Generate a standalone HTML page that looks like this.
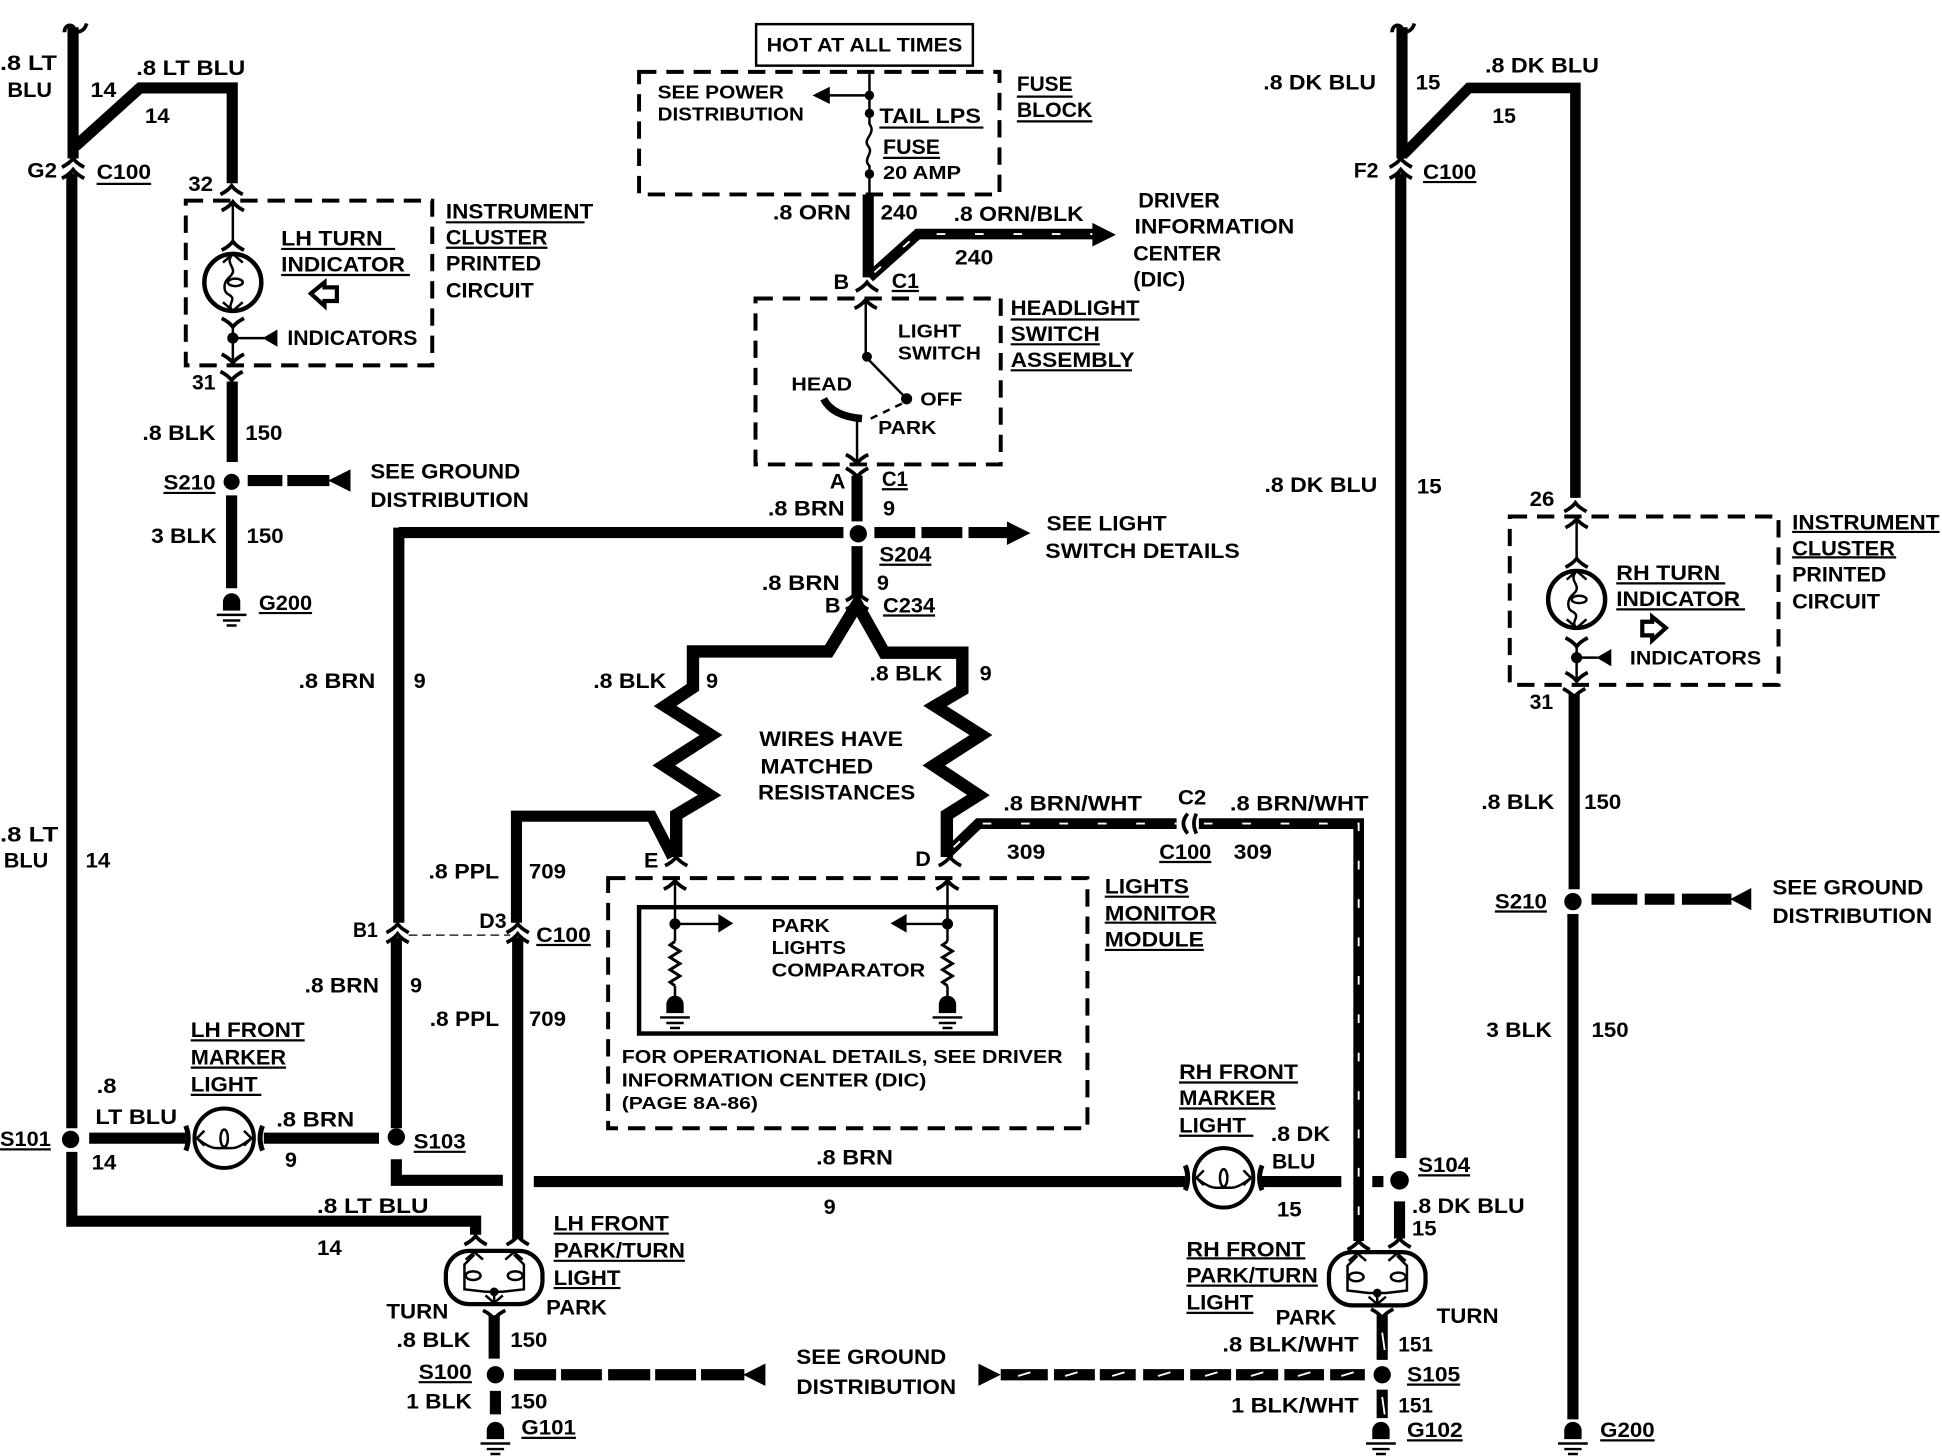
<!DOCTYPE html>
<html><head><meta charset="utf-8"><title>Turn indicator wiring diagram</title>
<style>html,body{margin:0;padding:0;background:#fff}svg{display:block}
text{font-family:"Liberation Sans",sans-serif;font-weight:bold;font-size:17.5px;fill:#000;letter-spacing:0;transform:translateY(-0.6px)}
</style></head><body>
<svg xmlns="http://www.w3.org/2000/svg" width="1942" height="1456" viewBox="0 0 1568 1175.6">
<defs>
<path id="u" d="M-9,5 Q-3,2 0,-2 Q3,2 9,5" fill="none" stroke="#000" stroke-width="3"/>
<path id="d" d="M-9,-5 Q-3,-2 0,2 Q3,-2 9,-5" fill="none" stroke="#000" stroke-width="3"/>
<g id="g"><path d="M-7,6 V-1 A7,7 0 0 1 7,-1 V6 Z"/><path d="M-12,9.5 H12 M-7,14 H7 M-4,18 H4" stroke="#000" stroke-width="2" fill="none"/></g>
<g id="ti"><circle r="23" fill="none" stroke="#000" stroke-width="3.6"/><path d="M0,-23 C-8,-14 6,-12 -3,-4 C-8,0 -8,8 -3,10 C4,14 -6,18 0,23" fill="none" stroke="#000" stroke-width="2"/><ellipse cx="2" cy="0" rx="6" ry="3" fill="none" stroke="#000" stroke-width="2"/><path d="M-8,-16 L0,-23 L8,-16 M-8,16 L0,23 L8,16" fill="none" stroke="#000" stroke-width="2"/></g>
<g id="la"><rect x="-39" y="-21" width="78" height="43" rx="19" fill="none" stroke="#000" stroke-width="3.4"/><path d="M-16,-18 L-24,-10 V10 L-7,12 H7 L24,10 V-10 L16,-18" fill="none" stroke="#000" stroke-width="2"/><ellipse cx="-17" cy="-1" rx="6" ry="3.5" fill="none" stroke="#000" stroke-width="2"/><ellipse cx="17" cy="-1" rx="6" ry="3.5" fill="none" stroke="#000" stroke-width="2"/><circle cy="12" r="3.5"/><path d="M0,12 V21 M-7,15 L0,21 L7,15 M-23,-14 L-16,-20 L-9,-14 M9,-14 L16,-20 L23,-14" fill="none" stroke="#000" stroke-width="2"/></g>
<g id="ml"><ellipse rx="24" ry="24" fill="none" stroke="#000" stroke-width="3.2"/><path d="M-22,0 C-12,8 -8,8 -6,8 H6 C8,8 12,8 22,0 M-16,-6 L-22,0 L-16,6 M16,-6 L22,0 L16,6" fill="none" stroke="#000" stroke-width="2"/><ellipse cy="0" rx="3" ry="7" fill="none" stroke="#000" stroke-width="2"/><path d="M-31,-10 Q-27,0 -31,10 M31,-10 Q27,0 31,10" fill="none" stroke="#000" stroke-width="4"/></g>
<path id="r" d="M0,0 L-4,3 L4,8 L-4,13 L4,18 L-4,23 L4,28 L-4,33 L0,36" fill="none" stroke="#000" stroke-width="2.4"/>
</defs>
<rect width="1568" height="1176" fill="#fff"/>

<!-- thick wires -->
<g fill="none" stroke="#000" stroke-width="9" stroke-linejoin="miter">
<path d="M59,22 V128 M58,140 V911 M58,930 V986 H384 V997"/>
<path d="M61,118 L113,71 H187.5 V148"/>
<path d="M187.5,308 V373 M187,400 V475"/>
<path d="M322,430 H681 M322,426 V745 M320,757 V911 M320,936 V953 H406 M431,954 H957"/>
<path d="M692,384 V421 M692,441 V481"/>
<path d="M701,157 V224"/>
<path stroke-width="10" d="M669,526 L692,488 L714,527 H777 V557 L755,570 L792,593.5 L754,618 L790,642 L764.5,658 V692"/>
<path stroke-width="10" d="M692,488 L669,526 H559.5 V555 L537,570 L574,593.5 L536,618 L573,642 L546,658 V692"/>
<path d="M417,745 V659 H526 L543,692 M418,757 V1000"/>
<path d="M132,22 V128" transform="translate(1000,0)"/>
<path d="M1131,140 V935 M1130,970 V1000"/>
<path stroke-width="8.5" d="M1134,124 L1186,71 H1272 V402"/>
<path d="M1271,560 V718 M1270,738 V1146"/>
<path d="M72,919 H150 M213,919 H306 M1018,954 H1083"/>
<path d="M399,1062 V1097 M400,1123 V1142 M1116,1062 V1098 M1116,1122 V1145"/>
<path d="M1108,954 H1117"/>
</g>
<!-- striped wires -->
<g fill="none" stroke="#000" stroke-width="8.6"><path d="M702,224 L741,189 H884"/><path d="M764,690 L790,665 H950"/><path d="M968,665 H1097 V1002"/></g>
<g fill="none" stroke="#fff" stroke-width="1.5" stroke-dasharray="7 24"><path d="M706,220 L741,189 H884"/><path d="M770,684 L790,665 H950"/><path d="M972,665 H1097 V1002"/></g>
<path d="M882,180 L901,189.5 L882,199 Z"/>

<!-- dashed thick feeds -->
<g fill="none" stroke="#000" stroke-width="9"><path d="M200,388 H228 M232,388 H266"/>
<path d="M706,430 H739 M744,430 H777 M782,430 H814"/>
<path d="M1285,726 H1322 M1328,726 H1352 M1358,726 H1398"/>
<path d="M415,1110 H449 M453,1110 H486 M491,1110 H525 M529,1110 H562 M566,1110 H601"/>
<path d="M808,1110 H846 M851,1110 H884 M888,1110 H917 M923,1110 H956 M961,1110 H994 M998,1110 H1032 M1037,1110 H1069 M1074,1110 H1102"/></g>
<g fill="none" stroke="#fff" stroke-width="1.5"><path d="M822,1111 L832,1108 M860,1111 L870,1108 M898,1111 L908,1108 M935,1111 L945,1108 M973,1111 L983,1108 M1010,1111 L1020,1108 M1048,1111 L1058,1108 M1083,1111 L1093,1108"/><path d="M1116,1076 L1118,1090 M1116,1128 L1118,1142"/></g>
<path d="M265,388 L283,379 V397 Z M813,421 L832,430.5 L813,440 Z M1397,726 L1414,717 V735 Z M600,1110 L618,1101 V1119 Z M790,1101 L808,1110 L790,1119 Z"/>

<!-- dots -->
<circle cx="187" cy="389" r="6.5"/><circle cx="693" cy="431" r="7"/><circle cx="1270" cy="728" r="7"/><circle cx="57" cy="920" r="7"/><circle cx="320" cy="918" r="7"/><circle cx="1130" cy="953" r="7.5"/><circle cx="400" cy="1110" r="7"/><circle cx="1116" cy="1110" r="7"/>

<!-- grounds -->
<use href="#g" x="187" y="487"/><use href="#g" x="400" y="1156"/><use href="#g" x="1115" y="1156"/><use href="#g" x="1270" y="1156"/><use href="#g" x="545" y="812"/><use href="#g" x="765" y="812"/>

<!-- dashed boxes -->
<g fill="none" stroke="#000" stroke-width="3.2" stroke-dasharray="14 8">
<rect x="150" y="162" width="199" height="133"/>
<rect x="516" y="58" width="291" height="99"/>
<rect x="610" y="241" width="198" height="134"/>
<rect x="491" y="709" width="387" height="202"/>
<rect x="1219" y="417" width="217" height="136"/>
</g>
<rect x="610.5" y="19.5" width="175" height="33.5" fill="none" stroke="#000" stroke-width="2"/>
<rect x="516" y="732.5" width="288" height="102" fill="none" stroke="#000" stroke-width="3.6"/>

<!-- thin internals -->
<g fill="none" stroke="#000" stroke-width="2">
<path d="M188,163 V197 M188,262 V293 M188,273 H214"/>
<path d="M1273,419 V453 M1273,520 V549 M1273,531 H1290"/>
<path d="M702,58 V100 C708,108 696,112 701,118 C706,124 696,128 702,134 V157 M702,77 H668"/>
<path d="M699,241 V288 L732,322"/>
<path d="M692,338 V374"/>
<path d="M703,338 L730,325" stroke-dasharray="6 5"/>
<path d="M545,709 V746 H582 M545,746 V760 M765,709 V746 H732 M765,746 V760 M545,796 V806 M765,796 V806"/>
<path d="M330,755 H412" stroke-width="1" stroke-dasharray="7 4"/>
</g>
<use href="#r" x="545" y="760"/><use href="#r" x="765" y="760"/>
<path d="M665,322 Q672,336 696,338" fill="none" stroke="#000" stroke-width="6"/>
<circle cx="188" cy="273" r="4.5"/><circle cx="1273" cy="531" r="4.5"/><circle cx="702" cy="77" r="3.8"/><circle cx="702" cy="91.5" r="3.8"/><circle cx="702" cy="140.5" r="3.8"/><circle cx="700" cy="288" r="4"/><circle cx="732" cy="322" r="4.5"/><circle cx="545" cy="746" r="4.5"/><circle cx="765" cy="746" r="4.5"/>
<path d="M656,77 L670,70 V84 Z M212,273 L224,266 V280 Z M1289,531 L1301,524 V538 Z M580,738 L592,745.5 L580,753 Z M732,738 L719,745.5 L732,753 Z"/>
<path d="M251,237 L262,228 V232 H272 V243 H262 V247 Z M1345,507 L1334,498 V502 H1326 V513 H1334 V517 Z" fill="#fff" stroke="#000" stroke-width="3.4"/>

<use href="#ti" x="188" y="228"/><use href="#ti" x="1273" y="484"/>
<use href="#ml" x="181" y="919"/><use href="#ml" x="988" y="951"/>
<use href="#la" x="399" y="1031"/><use href="#la" x="1112" y="1032"/>

<!-- connector chevrons -->
<use href="#u" x="59" y="130"/><use href="#u" x="59" y="139"/><use href="#u" x="1131" y="130"/><use href="#u" x="1131" y="139"/>
<use href="#u" x="187" y="152"/><use href="#u" x="188" y="165"/><use href="#u" x="188" y="197"/>
<use href="#d" x="188" y="262"/><use href="#d" x="188" y="291"/><use href="#d" x="187" y="305"/>
<use href="#u" x="700" y="230"/><use href="#u" x="699" y="244"/><use href="#d" x="692" y="372"/><use href="#d" x="692" y="383"/>
<use href="#u" x="692" y="480"/><use href="#u" x="692" y="487"/>
<use href="#u" x="546" y="694"/><use href="#u" x="545" y="713"/><use href="#u" x="767" y="694"/><use href="#u" x="765" y="713"/>
<use href="#u" x="321" y="748"/><use href="#u" x="321" y="756"/><use href="#u" x="418" y="748"/><use href="#u" x="418" y="756"/>
<use href="#u" x="384" y="1000"/><use href="#u" x="418" y="1000"/><use href="#u" x="1097" y="1004"/><use href="#u" x="1130" y="1002"/>
<use href="#d" x="399" y="1063"/><use href="#d" x="1116" y="1062"/>
<use href="#u" x="1272" y="408"/><use href="#u" x="1273" y="421"/><use href="#u" x="1273" y="453"/>
<use href="#d" x="1273" y="520"/><use href="#d" x="1273" y="548"/><use href="#d" x="1271" y="561"/>
<path d="M52,26 C52,19 60,19 60,24 C62,27 68,26 70,19 M1124,26 C1124,19 1132,19 1132,24 C1134,27 1140,26 1142,19" fill="none" stroke="#000" stroke-width="3"/>
<path d="M959,657 Q952,665 959,673 M966,657 Q962,665 966,673" fill="none" stroke="#000" stroke-width="3"/>

<!-- underlines -->
<path fill="none" stroke="#000" stroke-width="1.8" d="M78,148.5 h44 M360,179.5 h112 M360,200 h82 M227,201 h92 M227,222 h104 M132,398 h42 M209,495 h43 M710,103 h84 M713,127.5 h46 M821,78 h45 M821,98 h61 M720,235 h22 M712,395 h21 M816,258 h104 M816,278 h72 M816,299 h98 M710,456 h42 M713,497 h42 M892,724 h68 M892,745 h90 M892,767 h80 M936,696 h42 M433,763 h44 M154,840 h92 M154,862 h77 M154,884 h57 M952,874 h96 M952,895 h78 M952,917 h60 M0,928 h41 M334,930 h42 M1145,949 h42 M447,996 h93 M447,1018 h106 M447,1040 h54 M958,1016 h96 M958,1038 h106 M958,1060 h54 M338,1116 h43 M1136,1118 h43 M421,1161 h44 M1136,1163 h45 M1292,1163 h44 M1149,147 h43 M1447,429.5 h119 M1447,450 h84 M1305,471 h88 M1305,492 h104 M1207,736 h42"/>

<!-- labels -->
<text x="0" y="57" textLength="46" lengthAdjust="spacingAndGlyphs">.8 LT</text>
<text x="6" y="79" textLength="36" lengthAdjust="spacingAndGlyphs">BLU</text>
<text x="73" y="79" textLength="21" lengthAdjust="spacingAndGlyphs">14</text>
<text x="110" y="61" textLength="88" lengthAdjust="spacingAndGlyphs">.8 LT BLU</text>
<text x="117" y="100" textLength="20" lengthAdjust="spacingAndGlyphs">14</text>
<text x="22" y="144" textLength="24" lengthAdjust="spacingAndGlyphs">G2</text>
<text x="78" y="145" textLength="44" lengthAdjust="spacingAndGlyphs">C100</text>
<text x="152" y="155" textLength="20" lengthAdjust="spacingAndGlyphs">32</text>
<text x="360" y="177" textLength="119" lengthAdjust="spacingAndGlyphs">INSTRUMENT</text>
<text x="360" y="198" textLength="82" lengthAdjust="spacingAndGlyphs">CLUSTER</text>
<text x="360" y="219" textLength="77" lengthAdjust="spacingAndGlyphs">PRINTED</text>
<text x="360" y="241" textLength="71" lengthAdjust="spacingAndGlyphs">CIRCUIT</text>
<text x="227" y="199" textLength="82" lengthAdjust="spacingAndGlyphs">LH TURN</text>
<text x="227" y="220" textLength="100" lengthAdjust="spacingAndGlyphs">INDICATOR</text>
<text x="232" y="279" textLength="105" lengthAdjust="spacingAndGlyphs">INDICATORS</text>
<text x="155" y="315" textLength="19" lengthAdjust="spacingAndGlyphs">31</text>
<text x="115" y="356" textLength="59" lengthAdjust="spacingAndGlyphs">.8 BLK</text>
<text x="198" y="356" textLength="30" lengthAdjust="spacingAndGlyphs">150</text>
<text x="132" y="396" textLength="42" lengthAdjust="spacingAndGlyphs">S210</text>
<text x="299" y="387" textLength="121" lengthAdjust="spacingAndGlyphs">SEE GROUND</text>
<text x="299" y="410" textLength="128" lengthAdjust="spacingAndGlyphs">DISTRIBUTION</text>
<text x="122" y="439" textLength="53" lengthAdjust="spacingAndGlyphs">3 BLK</text>
<text x="199" y="439" textLength="30" lengthAdjust="spacingAndGlyphs">150</text>
<text x="209" y="493" textLength="43" lengthAdjust="spacingAndGlyphs">G200</text>
<text x="241" y="556" textLength="62" lengthAdjust="spacingAndGlyphs">.8 BRN</text>
<text x="334" y="556">9</text>
<text x="479" y="556" textLength="59" lengthAdjust="spacingAndGlyphs">.8 BLK</text>
<text x="570" y="556">9</text>
<text x="702" y="550" textLength="59" lengthAdjust="spacingAndGlyphs">.8 BLK</text>
<text x="791" y="550">9</text>
<text x="0" y="680" textLength="47" lengthAdjust="spacingAndGlyphs">.8 LT</text>
<text x="3" y="701" textLength="36" lengthAdjust="spacingAndGlyphs">BLU</text>
<text x="69" y="701" textLength="20" lengthAdjust="spacingAndGlyphs">14</text>
<text x="346" y="710" textLength="57" lengthAdjust="spacingAndGlyphs">.8 PPL</text>
<text x="427" y="710" textLength="30" lengthAdjust="spacingAndGlyphs">709</text>
<text x="285" y="757" textLength="20" lengthAdjust="spacingAndGlyphs">B1</text>
<text x="387" y="750" textLength="22" lengthAdjust="spacingAndGlyphs">D3</text>
<text x="433" y="761" textLength="44" lengthAdjust="spacingAndGlyphs">C100</text>
<text x="246" y="802" textLength="60" lengthAdjust="spacingAndGlyphs">.8 BRN</text>
<text x="331" y="802">9</text>
<text x="347" y="829" textLength="56" lengthAdjust="spacingAndGlyphs">.8 PPL</text>
<text x="427" y="829" textLength="30" lengthAdjust="spacingAndGlyphs">709</text>
<text x="154" y="838" textLength="92" lengthAdjust="spacingAndGlyphs">LH FRONT</text>
<text x="154" y="860" textLength="77" lengthAdjust="spacingAndGlyphs">MARKER</text>
<text x="154" y="882" textLength="54" lengthAdjust="spacingAndGlyphs">LIGHT</text>
<text x="78" y="883" textLength="16" lengthAdjust="spacingAndGlyphs">.8</text>
<text x="77" y="908" textLength="66" lengthAdjust="spacingAndGlyphs">LT BLU</text>
<text x="223" y="910" textLength="63" lengthAdjust="spacingAndGlyphs">.8 BRN</text>
<text x="0" y="926" textLength="41" lengthAdjust="spacingAndGlyphs">S101</text>
<text x="334" y="928" textLength="42" lengthAdjust="spacingAndGlyphs">S103</text>
<text x="74" y="945" textLength="20" lengthAdjust="spacingAndGlyphs">14</text>
<text x="230" y="943">9</text>
<text x="659" y="941" textLength="62" lengthAdjust="spacingAndGlyphs">.8 BRN</text>
<text x="665" y="981">9</text>
<text x="256" y="980" textLength="90" lengthAdjust="spacingAndGlyphs">.8 LT BLU</text>
<text x="256" y="1014" textLength="20" lengthAdjust="spacingAndGlyphs">14</text>
<text x="447" y="994" textLength="93" lengthAdjust="spacingAndGlyphs">LH FRONT</text>
<text x="447" y="1016" textLength="106" lengthAdjust="spacingAndGlyphs">PARK/TURN</text>
<text x="447" y="1038" textLength="54" lengthAdjust="spacingAndGlyphs">LIGHT</text>
<text x="312" y="1065" textLength="50" lengthAdjust="spacingAndGlyphs">TURN</text>
<text x="441" y="1062" textLength="49" lengthAdjust="spacingAndGlyphs">PARK</text>
<text x="320" y="1088" textLength="60" lengthAdjust="spacingAndGlyphs">.8 BLK</text>
<text x="412" y="1088" textLength="30" lengthAdjust="spacingAndGlyphs">150</text>
<text x="338" y="1114" textLength="43" lengthAdjust="spacingAndGlyphs">S100</text>
<text x="328" y="1138" textLength="53" lengthAdjust="spacingAndGlyphs">1 BLK</text>
<text x="412" y="1138" textLength="30" lengthAdjust="spacingAndGlyphs">150</text>
<text x="421" y="1159" textLength="44" lengthAdjust="spacingAndGlyphs">G101</text>
<text x="643" y="1102" textLength="121" lengthAdjust="spacingAndGlyphs">SEE GROUND</text>
<text x="643" y="1126" textLength="129" lengthAdjust="spacingAndGlyphs">DISTRIBUTION</text>

<text x="619" y="42" textLength="158" lengthAdjust="spacingAndGlyphs" style="font-size:16px">HOT AT ALL TIMES</text>
<text x="531" y="80" textLength="102" lengthAdjust="spacingAndGlyphs" style="font-size:15px">SEE POWER</text>
<text x="531" y="98" textLength="118" lengthAdjust="spacingAndGlyphs" style="font-size:15px">DISTRIBUTION</text>
<text x="710" y="100" textLength="82" lengthAdjust="spacingAndGlyphs">TAIL LPS</text>
<text x="713" y="125" textLength="46" lengthAdjust="spacingAndGlyphs">FUSE</text>
<text x="713" y="145" textLength="63" lengthAdjust="spacingAndGlyphs" style="font-size:15px">20 AMP</text>
<text x="821" y="74" textLength="45" lengthAdjust="spacingAndGlyphs">FUSE</text>
<text x="821" y="95" textLength="61" lengthAdjust="spacingAndGlyphs">BLOCK</text>
<text x="624" y="178" textLength="63" lengthAdjust="spacingAndGlyphs">.8 ORN</text>
<text x="711" y="178" textLength="30" lengthAdjust="spacingAndGlyphs">240</text>
<text x="770" y="179" textLength="105" lengthAdjust="spacingAndGlyphs">.8 ORN/BLK</text>
<text x="771" y="214" textLength="31" lengthAdjust="spacingAndGlyphs">240</text>
<text x="919" y="168" textLength="66" lengthAdjust="spacingAndGlyphs">DRIVER</text>
<text x="916" y="189" textLength="129" lengthAdjust="spacingAndGlyphs">INFORMATION</text>
<text x="915" y="211" textLength="71" lengthAdjust="spacingAndGlyphs">CENTER</text>
<text x="915" y="232" textLength="42" lengthAdjust="spacingAndGlyphs">(DIC)</text>
<text x="673" y="234">B</text>
<text x="720" y="233" textLength="22" lengthAdjust="spacingAndGlyphs">C1</text>
<text x="816" y="255" textLength="104" lengthAdjust="spacingAndGlyphs">HEADLIGHT</text>
<text x="816" y="276" textLength="72" lengthAdjust="spacingAndGlyphs">SWITCH</text>
<text x="816" y="297" textLength="100" lengthAdjust="spacingAndGlyphs">ASSEMBLY</text>
<text x="725" y="273" textLength="51" lengthAdjust="spacingAndGlyphs" style="font-size:15px">LIGHT</text>
<text x="725" y="291" textLength="67" lengthAdjust="spacingAndGlyphs" style="font-size:15px">SWITCH</text>
<text x="639" y="316" textLength="49" lengthAdjust="spacingAndGlyphs" style="font-size:15px">HEAD</text>
<text x="743" y="328" textLength="34" lengthAdjust="spacingAndGlyphs" style="font-size:15px">OFF</text>
<text x="709" y="351" textLength="47" lengthAdjust="spacingAndGlyphs" style="font-size:15px">PARK</text>
<text x="670" y="395">A</text>
<text x="712" y="393" textLength="21" lengthAdjust="spacingAndGlyphs">C1</text>
<text x="620" y="417" textLength="62" lengthAdjust="spacingAndGlyphs">.8 BRN</text>
<text x="713" y="417">9</text>
<text x="710" y="454" textLength="42" lengthAdjust="spacingAndGlyphs">S204</text>
<text x="845" y="429" textLength="97" lengthAdjust="spacingAndGlyphs">SEE LIGHT</text>
<text x="844" y="451" textLength="157" lengthAdjust="spacingAndGlyphs">SWITCH DETAILS</text>
<text x="615" y="477" textLength="63" lengthAdjust="spacingAndGlyphs">.8 BRN</text>
<text x="708" y="477">9</text>
<text x="666" y="495">B</text>
<text x="713" y="495" textLength="42" lengthAdjust="spacingAndGlyphs">C234</text>
<text x="613" y="603" textLength="116" lengthAdjust="spacingAndGlyphs">WIRES HAVE</text>
<text x="614" y="625" textLength="91" lengthAdjust="spacingAndGlyphs">MATCHED</text>
<text x="612" y="646" textLength="127" lengthAdjust="spacingAndGlyphs">RESISTANCES</text>
<text x="810" y="655" textLength="112" lengthAdjust="spacingAndGlyphs">.8 BRN/WHT</text>
<text x="951" y="650" textLength="23" lengthAdjust="spacingAndGlyphs">C2</text>
<text x="993" y="655" textLength="112" lengthAdjust="spacingAndGlyphs">.8 BRN/WHT</text>
<text x="813" y="694" textLength="31" lengthAdjust="spacingAndGlyphs">309</text>
<text x="936" y="694" textLength="42" lengthAdjust="spacingAndGlyphs">C100</text>
<text x="996" y="694" textLength="31" lengthAdjust="spacingAndGlyphs">309</text>
<text x="520" y="701">E</text>
<text x="739" y="700">D</text>
<text x="892" y="722" textLength="68" lengthAdjust="spacingAndGlyphs">LIGHTS</text>
<text x="892" y="744" textLength="90" lengthAdjust="spacingAndGlyphs">MONITOR</text>
<text x="892" y="765" textLength="80" lengthAdjust="spacingAndGlyphs">MODULE</text>
<text x="623" y="753" textLength="47" lengthAdjust="spacingAndGlyphs" style="font-size:15px">PARK</text>
<text x="623" y="771" textLength="60" lengthAdjust="spacingAndGlyphs" style="font-size:15px">LIGHTS</text>
<text x="623" y="789" textLength="124" lengthAdjust="spacingAndGlyphs" style="font-size:15px">COMPARATOR</text>
<text x="502" y="859" textLength="356" lengthAdjust="spacingAndGlyphs" style="font-size:15px">FOR OPERATIONAL DETAILS, SEE DRIVER</text>
<text x="502" y="878" textLength="246" lengthAdjust="spacingAndGlyphs" style="font-size:15px">INFORMATION CENTER (DIC)</text>
<text x="502" y="896" textLength="110" lengthAdjust="spacingAndGlyphs" style="font-size:14px">(PAGE 8A-86)</text>

<text x="1020" y="73" textLength="91" lengthAdjust="spacingAndGlyphs">.8 DK BLU</text>
<text x="1143" y="73" textLength="20" lengthAdjust="spacingAndGlyphs">15</text>
<text x="1199" y="59" textLength="92" lengthAdjust="spacingAndGlyphs">.8 DK BLU</text>
<text x="1205" y="100" textLength="19" lengthAdjust="spacingAndGlyphs">15</text>
<text x="1093" y="144" textLength="20" lengthAdjust="spacingAndGlyphs">F2</text>
<text x="1149" y="145" textLength="43" lengthAdjust="spacingAndGlyphs">C100</text>
<text x="1021" y="398" textLength="91" lengthAdjust="spacingAndGlyphs">.8 DK BLU</text>
<text x="1144" y="399" textLength="20" lengthAdjust="spacingAndGlyphs">15</text>
<text x="1235" y="409" textLength="20" lengthAdjust="spacingAndGlyphs">26</text>
<text x="1447" y="428" textLength="119" lengthAdjust="spacingAndGlyphs">INSTRUMENT</text>
<text x="1447" y="449" textLength="83" lengthAdjust="spacingAndGlyphs">CLUSTER</text>
<text x="1447" y="470" textLength="76" lengthAdjust="spacingAndGlyphs">PRINTED</text>
<text x="1447" y="492" textLength="71" lengthAdjust="spacingAndGlyphs">CIRCUIT</text>
<text x="1305" y="469" textLength="84" lengthAdjust="spacingAndGlyphs">RH TURN</text>
<text x="1305" y="490" textLength="100" lengthAdjust="spacingAndGlyphs">INDICATOR</text>
<text x="1316" y="537" textLength="106" lengthAdjust="spacingAndGlyphs" style="font-size:16px">INDICATORS</text>
<text x="1235" y="573" textLength="19" lengthAdjust="spacingAndGlyphs">31</text>
<text x="1196" y="654" textLength="59" lengthAdjust="spacingAndGlyphs">.8 BLK</text>
<text x="1279" y="654" textLength="30" lengthAdjust="spacingAndGlyphs">150</text>
<text x="1207" y="734" textLength="42" lengthAdjust="spacingAndGlyphs">S210</text>
<text x="1431" y="723" textLength="122" lengthAdjust="spacingAndGlyphs">SEE GROUND</text>
<text x="1431" y="746" textLength="129" lengthAdjust="spacingAndGlyphs">DISTRIBUTION</text>
<text x="1200" y="838" textLength="53" lengthAdjust="spacingAndGlyphs">3 BLK</text>
<text x="1285" y="838" textLength="30" lengthAdjust="spacingAndGlyphs">150</text>
<text x="952" y="872" textLength="96" lengthAdjust="spacingAndGlyphs">RH FRONT</text>
<text x="952" y="893" textLength="78" lengthAdjust="spacingAndGlyphs">MARKER</text>
<text x="952" y="915" textLength="54" lengthAdjust="spacingAndGlyphs">LIGHT</text>
<text x="1026" y="922" textLength="48" lengthAdjust="spacingAndGlyphs">.8 DK</text>
<text x="1027" y="944" textLength="35" lengthAdjust="spacingAndGlyphs">BLU</text>
<text x="1031" y="983" textLength="20" lengthAdjust="spacingAndGlyphs">15</text>
<text x="1145" y="947" textLength="42" lengthAdjust="spacingAndGlyphs">S104</text>
<text x="1140" y="980" textLength="91" lengthAdjust="spacingAndGlyphs">.8 DK BLU</text>
<text x="1140" y="998" textLength="20" lengthAdjust="spacingAndGlyphs">15</text>
<text x="958" y="1015" textLength="96" lengthAdjust="spacingAndGlyphs">RH FRONT</text>
<text x="958" y="1036" textLength="106" lengthAdjust="spacingAndGlyphs">PARK/TURN</text>
<text x="958" y="1058" textLength="54" lengthAdjust="spacingAndGlyphs">LIGHT</text>
<text x="1030" y="1070" textLength="49" lengthAdjust="spacingAndGlyphs">PARK</text>
<text x="1160" y="1069" textLength="50" lengthAdjust="spacingAndGlyphs">TURN</text>
<text x="987" y="1092" textLength="110" lengthAdjust="spacingAndGlyphs">.8 BLK/WHT</text>
<text x="1129" y="1092" textLength="28" lengthAdjust="spacingAndGlyphs">151</text>
<text x="1136" y="1116" textLength="43" lengthAdjust="spacingAndGlyphs">S105</text>
<text x="994" y="1141" textLength="103" lengthAdjust="spacingAndGlyphs">1 BLK/WHT</text>
<text x="1129" y="1141" textLength="28" lengthAdjust="spacingAndGlyphs">151</text>
<text x="1136" y="1161" textLength="45" lengthAdjust="spacingAndGlyphs">G102</text>
<text x="1292" y="1161" textLength="44" lengthAdjust="spacingAndGlyphs">G200</text>
</svg>
</body></html>
